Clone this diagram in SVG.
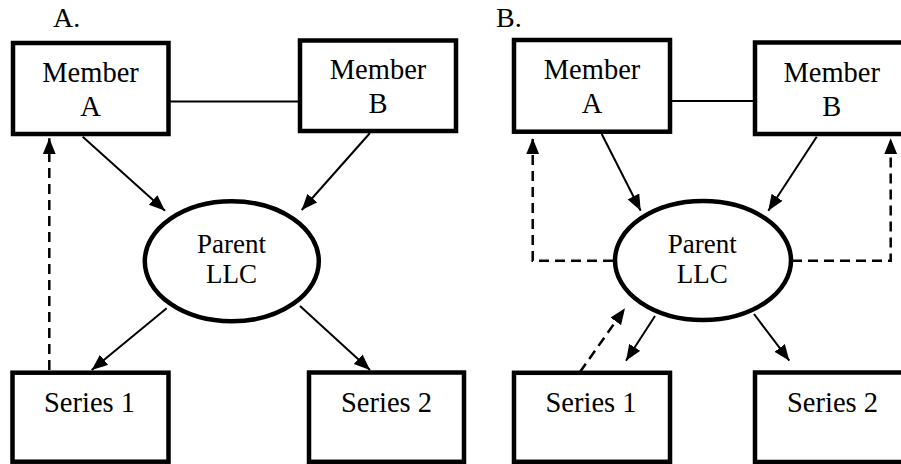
<svg xmlns="http://www.w3.org/2000/svg" width="901" height="464" viewBox="0 0 901 464">
<style>
.box{fill:#fff;stroke:#000;stroke-width:4.5}
.ell{fill:#fff;stroke:#000;stroke-width:4.5}
text{font-family:'Liberation Serif','Tinos','Times New Roman','DejaVu Serif',serif;fill:#000}
.t{font-size:28.5px;text-anchor:middle}
.tp{font-size:27px;text-anchor:middle}
.lbl{font-size:28px}
.c{fill:none;stroke:#000;stroke-width:2}
.d{fill:none;stroke:#000;stroke-width:2.5;stroke-dasharray:10 6}
</style>
<defs>
<marker id="ah" markerUnits="userSpaceOnUse" markerWidth="17" markerHeight="14" refX="16" refY="6.5" orient="auto">
<path d="M0,0 L16,6.5 L0,13 z" fill="#000"/>
</marker>
</defs>
<rect width="901" height="464" fill="#fff"/>
<text class="lbl" x="53" y="27">A.</text>
<text class="lbl" x="496" y="27">B.</text>
<g id="connectors">
<line class="c" x1="170" y1="101.5" x2="299" y2="101.5"/>
<line class="c" x1="82.7" y1="136.7" x2="165" y2="210.7" marker-end="url(#ah)"/>
<line class="c" x1="370" y1="133" x2="301.7" y2="210" marker-end="url(#ah)"/>
<line class="c" x1="166.7" y1="308.3" x2="91.7" y2="370" marker-end="url(#ah)"/>
<line class="c" x1="300" y1="306" x2="370" y2="370" marker-end="url(#ah)"/>
<line class="d" x1="49.3" y1="370" x2="49.3" y2="138.3" marker-end="url(#ah)"/>
<line class="c" x1="672" y1="101" x2="753" y2="101"/>
<line class="c" x1="601.7" y1="134" x2="640.7" y2="210.7" marker-end="url(#ah)"/>
<line class="c" x1="816.7" y1="136.7" x2="768.3" y2="210.7" marker-end="url(#ah)"/>
<line class="c" x1="655" y1="316" x2="626" y2="360.7" marker-end="url(#ah)"/>
<line class="c" x1="754" y1="314" x2="789.3" y2="360.7" marker-end="url(#ah)"/>
<path class="d" d="M613,260.7 H532.7 V138.3" marker-end="url(#ah)"/>
<path class="d" d="M792,260.7 H890.7 V138.3" marker-end="url(#ah)"/>
<line class="d" x1="580" y1="372" x2="625" y2="308.3" marker-end="url(#ah)"/>
</g>
<g id="a-member-a">
<rect class="box" x="13" y="43" width="155.5" height="91"/>
<text class="t" x="90.5" y="82">Member</text>
<text class="t" x="90.5" y="116">A</text>
</g>
<g id="a-member-b">
<rect class="box" x="300" y="40.5" width="156" height="90.5"/>
<text class="t" x="378" y="79">Member</text>
<text class="t" x="378" y="113">B</text>
</g>
<g id="a-parent">
<ellipse class="ell" cx="231.8" cy="261.3" rx="87" ry="60"/>
<text class="tp" x="231.5" y="252.7">Parent</text>
<text class="tp" x="231.5" y="283.3">LLC</text>
</g>
<g id="a-series-1">
<rect class="box" x="12.5" y="372.7" width="156" height="89"/>
<text class="t" x="89.5" y="411.7">Series 1</text>
</g>
<g id="a-series-2">
<rect class="box" x="309" y="372.5" width="155" height="89.3"/>
<text class="t" x="386.5" y="411.5">Series 2</text>
</g>
<g id="b-member-a">
<rect class="box" x="514" y="40" width="156" height="91.7"/>
<text class="t" x="592" y="79.3">Member</text>
<text class="t" x="592" y="112.7">A</text>
</g>
<g id="b-member-b">
<rect class="box" x="755" y="42.5" width="160" height="91.5"/>
<text class="t" x="831.7" y="81.7">Member</text>
<text class="t" x="831.7" y="116">B</text>
</g>
<g id="b-parent">
<ellipse class="ell" cx="703" cy="260.5" rx="88" ry="59.5"/>
<text class="tp" x="702.2" y="252.7">Parent</text>
<text class="tp" x="702.2" y="283.3">LLC</text>
</g>
<g id="b-series-1">
<rect class="box" x="514" y="372.8" width="156" height="89"/>
<text class="t" x="591" y="411.7">Series 1</text>
</g>
<g id="b-series-2">
<rect class="box" x="755" y="372.5" width="160" height="89.5"/>
<text class="t" x="832.5" y="411.7">Series 2</text>
</g>
</svg>
